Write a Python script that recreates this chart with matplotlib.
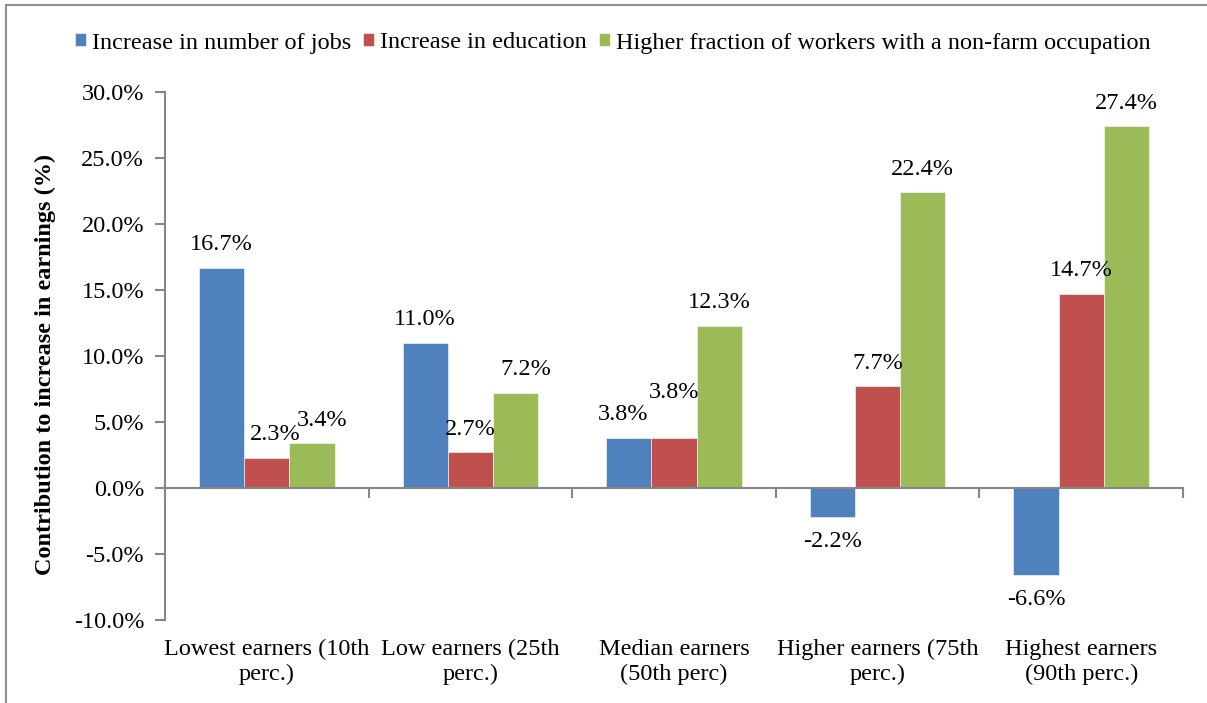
import matplotlib.pyplot as plt
from matplotlib.lines import Line2D
from matplotlib import transforms
import numpy as np

plt.rcParams['font.family'] = ['Liberation Serif', 'DejaVu Serif']

# data
categories = ['Lowest earners (10th\nperc.)', 'Low earners (25th\nperc.)',
              'Median earners\n(50th perc)', 'Higher earners (75th\nperc.)',
              'Highest earners\n(90th perc.)']
series_names = ['Increase in number of jobs', 'Increase in education',
                'Higher fraction of workers with a non-farm occupation']
jobs = [16.7, 11.0, 3.8, -2.2, -6.6]
education = [2.3, 2.7, 3.8, 7.7, 14.7]
nonfarm = [3.4, 7.2, 12.3, 22.4, 27.4]
colors = ['#4F81BD', '#C0504D', '#9BBB59']
fs = 17.5

# small label nudges (series, category) -> (dx, dy) in pixels, as in the original
nudge = {(1, 0): (8, 0), (2, 0): (10, 0), (2, 1): (10, 0),
         (0, 2): (-6, 0), (1, 2): (0, 22)}

fig = plt.figure(figsize=(12.07, 7.03), dpi=100)
ax = fig.add_axes([165/1207, 1-620/703, (1183-165)/1207, (620-92)/703])

x = np.arange(len(categories))
w = 1/4.5
for i, (vals, name) in enumerate(zip([jobs, education, nonfarm], series_names)):
    pos = x + (i-1)*w
    ax.bar(pos, vals, w, color=colors[i], label=name, edgecolor='white', linewidth=0.4)
    for j, (p, v) in enumerate(zip(pos, vals)):
        dx, dy = nudge.get((i, j), (0, 0))
        dx, dy = dx*0.72, dy*0.72
        if v >= 0:
            ax.annotate(f'{v:.1f}%', (p, v), xytext=(dx, 9 + dy), textcoords='offset points',
                        ha='center', va='bottom', fontsize=fs)
        else:
            ax.annotate(f'{v:.1f}%', (p, v), xytext=(dx, -10 + dy), textcoords='offset points',
                        ha='center', va='top', fontsize=fs)

ax.set_xlim(-0.5, 4.5)
ax.set_ylim(-10, 30)
yt = np.arange(-10, 31, 5)
ax.set_yticks(yt)
ax.set_yticklabels([f'{t:.1f}%' for t in yt], fontsize=fs)
ax.set_xticks(x)
ax.set_xticks(np.arange(-0.5, 4.6, 1), minor=True)
ax.tick_params(axis='x', which='major', length=0, pad=0)
ax.tick_params(axis='x', which='minor', length=7, color='#868686', width=1.5)
ax.tick_params(axis='y', length=7, color='#868686', width=1.5, pad=8)
ax.spines['top'].set_visible(False)
ax.spines['right'].set_visible(False)
ax.spines['bottom'].set_position(('data', 0))
ax.spines['bottom'].set_color('#868686')
ax.spines['bottom'].set_linewidth(1.5)
ax.spines['left'].set_color('#868686')
ax.spines['left'].set_linewidth(1.5)

# category labels sit below the plot area, not under the zero line
ax.set_xticklabels(categories, fontsize=fs, linespacing=1.23, va='top')
shift = transforms.ScaledTranslation(0, -0.19, fig.dpi_scale_trans)
for lab in ax.get_xticklabels():
    lab.set_transform(ax.get_xaxis_transform() + shift)

ax.set_ylabel('Contribution to increase in earnings (%)', fontsize=fs, fontweight='bold')
ax.yaxis.set_label_coords((56-165)/1018, (620-364)/528)

fig.legend(loc='center', bbox_to_anchor=(613/1207, 1-43/703), ncol=3, frameon=False,
           fontsize=fs, handlelength=0.45, handleheight=0.45, handletextpad=0.25,
           columnspacing=0.5)

# outer chart frame (cropped)
fig.add_artist(Line2D([6/1207, 1], [1-5/703, 1-5/703], color='#909090', lw=1.5, transform=fig.transFigure))
fig.add_artist(Line2D([6/1207, 6/1207], [0, 1-5/703], color='#909090', lw=1.5, transform=fig.transFigure))

fig.savefig('out.png', dpi=100)
